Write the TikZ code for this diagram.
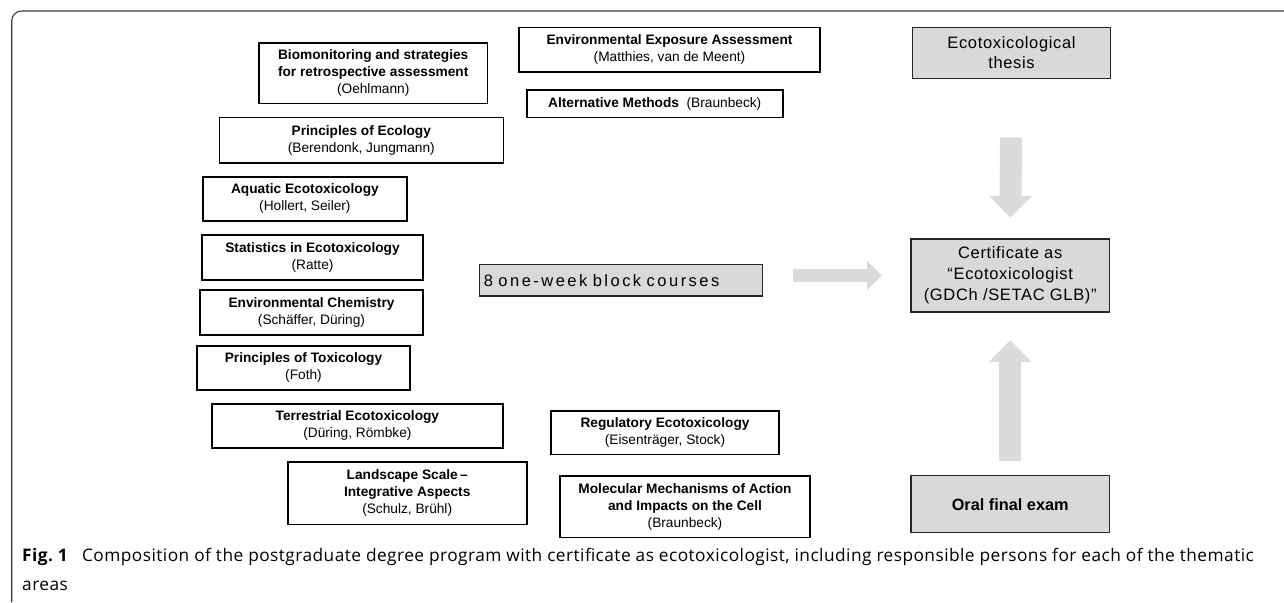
\documentclass[tikz,border=0pt]{standalone}
\usepackage{fontspec}
\setmainfont{Liberation Sans}
\newfontfamily\greyfont[LetterSpace=4]{Liberation Sans}
\newfontfamily\greyfontwide[LetterSpace=15]{Liberation Sans}
\newfontfamily\capfont[LetterSpace=2.6]{Open Sans}
\usetikzlibrary{arrows.meta}
\definecolor{boxgray}{HTML}{D9D9D9}
\definecolor{arrowgray}{HTML}{DBDBDB}
\definecolor{framegray}{HTML}{3A3A3A}
\newcommand{\ctitle}[1]{\textbf{#1}}
\begin{document}
\begin{tikzpicture}[x=1pt,y=-1pt,
  course/.style={draw=black, line width=1.6pt, fill=white, align=center,
    inner sep=0pt, font=\fontsize{13.7}{17}\selectfont},
  greybox/.style={draw=black!85, line width=1.5pt, fill=boxgray, align=center,
    inner sep=0pt, font=\greyfont\fontsize{16.5}{20}\selectfont}
]
\useasboundingbox (0,0) rectangle (1284,602);
% frame
\draw[framegray, line width=1.1pt, rounded corners=10pt] (11.7,602) -- (11.7,11) -- (1284,11);

% course boxes (left column)
\node[course, minimum width=228.3pt, minimum height=60pt] (bio) at (373.2,73.3)
  {\ctitle{Biomonitoring and strategies}\\\ctitle{for retrospective assessment}\\(Oehlmann)};
\node[course, minimum width=284pt, minimum height=45.4pt] (ecol) at (361.3,140)
  {\ctitle{Principles of Ecology}\\(Berendonk, Jungmann)};
\node[course, minimum width=203.7pt, minimum height=43.7pt] (aqua) at (304.9,198.9)
  {\ctitle{Aquatic Ecotoxicology}\\(Hollert, Seiler)};
\node[course, minimum width=221pt, minimum height=45pt] (stat) at (312.5,257.5)
  {\ctitle{Statistics in Ecotoxicology}\\(Ratte)};
\node[course, minimum width=223pt, minimum height=45pt] (chem) at (311.5,312.5)
  {\ctitle{Environmental Chemistry}\\(Schäffer, Düring)};
\node[course, minimum width=213pt, minimum height=44.3pt] (tox) at (303.5,367.9)
  {\ctitle{Principles of Toxicology}\\(Foth)};
\node[course, minimum width=290.7pt, minimum height=43.7pt] (terr) at (357.4,425.9)
  {\ctitle{Terrestrial Ecotoxicology}\\(Düring, Römbke)};
\node[course, minimum width=239pt, minimum height=62.3pt] (land) at (407.2,493.2)
  {\ctitle{Landscape Scale\,--}\\\ctitle{Integrative Aspects}\\(Schulz, Brühl)};

% course boxes (middle column)
\node[course, minimum width=301pt, minimum height=44pt] (expo) at (669.5,49.7)
  {\ctitle{Environmental Exposure Assessment}\\(Matthies, van de Meent)};
\node[course, minimum width=256pt, minimum height=27.3pt] (alt) at (654.7,103.7)
  {\ctitle{Alternative Methods}\ \ (Braunbeck)};
\node[course, minimum width=228pt, minimum height=43.3pt] (reg) at (665,432.7)
  {\ctitle{Regulatory Ecotoxicology}\\(Eisenträger, Stock)};
\node[course, minimum width=250pt, minimum height=61.3pt] (mol) at (685,506.7)
  {\ctitle{Molecular Mechanisms of Action}\\\ctitle{and Impacts on the Cell}\\(Braunbeck)};

% grey boxes
\node[greybox, minimum width=283.4pt, minimum height=31.7pt, text width=283.4pt, align=left,
  font=\greyfontwide\fontsize{16.5}{20}\selectfont] (block) at (621,280.2)
  {\hspace*{4.5pt}8 one-week block courses};
\node[greybox, minimum width=198.4pt, minimum height=50.6pt] (thesis) at (1011.5,53)
  {Ecotoxicological\\thesis};
\node[greybox, minimum width=198.3pt, minimum height=73pt, font=\greyfont\fontsize{16.5}{21.2}\selectfont] (cert) at (1010.2,275.5)
  {Certificate as\\“Ecotoxicologist\\(GDCh /SETAC GLB)”};
\node[greybox, minimum width=198.3pt, minimum height=57pt, font=\fontsize{16.3}{19}\selectfont\bfseries] (oral) at (1010.2,504.2)
  {Oral final exam};

% block arrows
\draw[arrowgray, line width=13pt, shorten <=30pt, shorten >=28.3pt,
  -{Triangle[length=15pt,width=29.5pt,line width=0pt]}]
  (block.east |- cert.west) -- (cert.west);
\draw[arrowgray, line width=22pt, shorten <=58.4pt, shorten >=20.7pt,
  -{Triangle[length=21.6pt,width=43.3pt,line width=0pt]}]
  (thesis.south) -- (cert.north);
\draw[arrowgray, line width=21.7pt, shorten <=14pt, shorten >=27.3pt,
  -{Triangle[length=21.7pt,width=42.3pt,line width=0pt]}]
  (oral.north) -- (cert.south);

% caption
\node[anchor=base west, inner sep=0pt, align=left, font=\capfont\fontsize{17.3}{29}\selectfont] (caption) at (22,590)
  {\textbf{Fig.~1}\hspace{0.8em}Composition of the postgraduate degree program with certificate as ecotoxicologist, including responsible persons for each of the thematic\\areas};
\end{tikzpicture}
\end{document}
